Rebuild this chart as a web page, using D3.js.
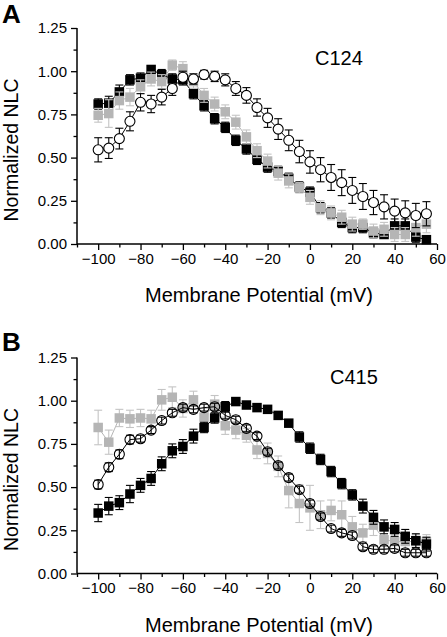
<!DOCTYPE html>
<html><head><meta charset="utf-8">
<script src="https://cdn.jsdelivr.net/npm/d3@7"></script>
<style>
html,body{margin:0;padding:0;background:#fff;}
svg{display:block;font-family:"Liberation Sans",Arial,Helvetica,sans-serif;}
</style></head>
<body><svg id="chart" width="447" height="637"></svg>
<script>
// ---- data ----
const voltages = [-100,-95,-90,-85,-80,-75,-70,-65,-60,-55,-50,-45,-40,-35,-30,-25,-20,-15,-10,-5,0,5,10,15,20,25,30,35,40,45,50,55];
const xTicks = [-100,-80,-60,-40,-20,0,20,40,60];
const yTicks = [0,0.25,0.5,0.75,1.0,1.25];
const panelLabels = ["A","B"];
const panelNames = ["C124","C415"];

const aBlack    = [0.81,0.815,0.88,0.95,0.96,1.01,0.98,0.955,0.95,0.87,0.80,0.725,0.675,0.60,0.55,0.49,0.445,0.42,0.38,0.33,0.30,0.21,0.18,0.125,0.095,0.095,0.065,0.055,0.105,0.105,0.04,0.025];
const aBlackErr = [0.03,0.04,0.04,0.03,0.03,0.02,0.03,0.03,0.03,0.03,0.03,0.03,0.03,0.03,0.03,0.03,0.03,0.03,0.03,0.03,0.03,0.03,0.03,0.03,0.03,0.03,0.03,0.02,0.04,0.04,0.03,0.02];
const aGray     = [0.745,0.755,0.83,0.85,0.91,0.955,0.94,1.035,1.015,0.94,0.86,0.81,0.765,0.705,0.62,0.54,0.48,0.41,0.365,0.325,0.27,0.21,0.18,0.155,0.115,0.115,0.075,0.085,0.055,0.055,0.095,0.115];
const aGrayErr  = [0.04,0.08,0.05,0.05,0.04,0.04,0.04,0.03,0.04,0.04,0.04,0.04,0.04,0.04,0.04,0.04,0.04,0.04,0.04,0.03,0.04,0.04,0.04,0.04,0.04,0.03,0.04,0.04,0.04,0.04,0.05,0.05];
const aOpen     = [0.545,0.555,0.61,0.71,0.82,0.81,0.85,0.90,0.965,0.955,0.98,0.97,0.95,0.90,0.86,0.79,0.73,0.665,0.60,0.535,0.475,0.43,0.385,0.355,0.31,0.275,0.24,0.215,0.19,0.18,0.165,0.175];
const aOpenErr  = [0.07,0.06,0.06,0.055,0.05,0.05,0.045,0.04,0.035,0.03,0.025,0.03,0.035,0.04,0.045,0.05,0.055,0.06,0.06,0.065,0.065,0.07,0.075,0.075,0.075,0.075,0.07,0.07,0.07,0.07,0.07,0.07];

const bBlack    = [0.35,0.39,0.41,0.46,0.51,0.55,0.635,0.71,0.735,0.795,0.845,0.90,0.965,0.995,0.975,0.96,0.95,0.915,0.87,0.79,0.725,0.66,0.59,0.52,0.455,0.39,0.325,0.27,0.255,0.215,0.19,0.17];
const bBlackErr = [0.05,0.05,0.04,0.05,0.04,0.04,0.04,0.04,0.04,0.04,0.03,0.03,0.03,0.02,0.02,0.02,0.02,0.02,0.02,0.03,0.03,0.03,0.03,0.03,0.03,0.04,0.04,0.04,0.04,0.04,0.04,0.04];
const bGray     = [0.845,0.76,0.90,0.895,0.90,0.895,1.005,1.02,0.955,1.005,0.905,0.98,0.855,0.83,0.80,0.715,0.695,0.62,0.48,0.405,0.38,0.34,0.365,0.34,0.27,0.235,0.28,0.195,0.185,0.185,0.185,0.185];
const bGrayErr  = [0.10,0.07,0.05,0.05,0.05,0.05,0.06,0.06,0.05,0.05,0.05,0.05,0.05,0.05,0.04,0.05,0.06,0.06,0.10,0.11,0.13,0.08,0.06,0.08,0.06,0.05,0.06,0.05,0.04,0.04,0.04,0.04];
const bOpen     = [0.515,0.615,0.69,0.775,0.78,0.83,0.885,0.93,0.96,0.95,0.96,0.965,0.915,0.89,0.84,0.795,0.705,0.625,0.555,0.485,0.405,0.33,0.26,0.235,0.22,0.155,0.14,0.14,0.145,0.12,0.12,0.12];
const bOpenErr  = [0.025,0.025,0.025,0.025,0.02,0.02,0.02,0.02,0.02,0.02,0.02,0.02,0.02,0.02,0.02,0.02,0.02,0.02,0.02,0.02,0.02,0.02,0.02,0.02,0.02,0.02,0.02,0.02,0.02,0.02,0.02,0.02];

// ---- layout ----
const svg = d3.select("#chart");
const x = d3.scaleLinear().domain([-110,60]).range([77,437]);
const GRAY = "#b5b5b5", GRAYBAR = "#c4c4c4";

const panels = [
  {top:28, bottom:244, label:panelLabels[0], name:panelNames[0], labelY:23, nameX:315, nameY:65, openFill:"#fff",
   series:[{v:aBlack,e:aBlackErr,c:"#000",bar:"#000",shape:"sq"},
           {v:aGray,e:aGrayErr,c:GRAY,bar:GRAYBAR,shape:"sq"},
           {v:aOpen,e:aOpenErr,c:"#000",bar:"#000",shape:"circ"}]},
  {top:357.5, bottom:573.5, label:panelLabels[1], name:panelNames[1], labelY:351, nameX:330, nameY:384, openFill:"none",
   series:[{v:bGray,e:bGrayErr,c:GRAY,bar:GRAYBAR,shape:"sq"},
           {v:bBlack,e:bBlackErr,c:"#000",bar:"#000",shape:"sq"},
           {v:bOpen,e:bOpenErr,c:"#000",bar:"#000",shape:"circ"}]}
];

panels.forEach(p => {
  const y = d3.scaleLinear().domain([0,1.25]).range([p.bottom,p.top]);
  const g = svg.append("g");

  // axes
  const xAxis = d3.axisBottom(x).tickValues(xTicks).tickSize(6).tickPadding(3).tickFormat(d3.format("d"));
  const xMinor = d3.axisBottom(x).tickValues(d3.range(-110,60,20)).tickSize(3.5).tickFormat("");
  const yAxis = d3.axisLeft(y).tickValues(yTicks).tickSize(6).tickPadding(4).tickFormat(d3.format(".2f"));
  const yMinor = d3.axisLeft(y).tickValues(d3.range(0.125,1.25,0.25)).tickSize(3.5).tickFormat("");

  const gx = g.append("g").attr("transform",`translate(0,${p.bottom})`).call(xAxis);
  g.append("g").attr("transform",`translate(0,${p.bottom})`).call(xMinor).select(".domain").remove();
  const gy = g.append("g").attr("transform",`translate(${x(-110)},0)`).call(yAxis);
  g.append("g").attr("transform",`translate(${x(-110)},0)`).call(yMinor).select(".domain").remove();
  g.selectAll(".domain").attr("stroke","#000").attr("stroke-width",1.5);
  g.selectAll(".tick line").attr("stroke","#000").attr("stroke-width",1.3);
  g.selectAll(".tick text").attr("font-size",15).attr("fill","#000").attr("font-family","Liberation Sans, Arial, sans-serif");
  gx.selectAll(".domain").attr("d",`M${x(-110)},0H${x(60)}`);
  gy.selectAll(".domain").attr("d",`M0,${y(1.25)}V${y(0)}`);

  // titles
  g.append("text").attr("x",(x(-110)+x(60))/2+2).attr("y",p.bottom+58).attr("text-anchor","middle")
    .attr("font-size",20).text("Membrane Potential (mV)");
  g.append("text").attr("transform",`translate(18,${(p.top+p.bottom)/2+14}) rotate(-90)`)
    .attr("text-anchor","middle").attr("font-size",19.5).text("Normalized NLC");
  g.append("text").attr("x",2).attr("y",p.labelY).attr("font-size",26).attr("font-weight","bold").text(p.label);
  g.append("text").attr("x",p.nameX).attr("y",p.nameY).attr("font-size",20).text(p.name);

  // series
  p.series.forEach(s => {
    const pts = voltages.map((v,i)=>({x:v,y:s.v[i],e:s.e[i]}));
    const line = d3.line().x(d=>x(d.x)).y(d=>y(d.y));
    g.append("path").datum(pts).attr("d",line).attr("fill","none").attr("stroke",s.c).attr("stroke-width",1);
    const eb = g.append("g").attr("stroke",s.bar).attr("stroke-width",1.1);
    pts.forEach(d=>{
      const cx = x(d.x);
      eb.append("line").attr("x1",cx).attr("x2",cx).attr("y1",y(d.y-d.e)).attr("y2",y(d.y+d.e));
      eb.append("line").attr("x1",cx-4).attr("x2",cx+4).attr("y1",y(d.y-d.e)).attr("y2",y(d.y-d.e));
      eb.append("line").attr("x1",cx-4).attr("x2",cx+4).attr("y1",y(d.y+d.e)).attr("y2",y(d.y+d.e));
    });
    if (s.shape==="sq") {
      const sz = 9.5;
      g.append("g").selectAll("rect").data(pts).join("rect")
        .attr("x",d=>x(d.x)-sz/2).attr("y",d=>y(d.y)-sz/2).attr("width",sz).attr("height",sz)
        .attr("fill",s.c);
    } else {
      g.append("g").selectAll("circle").data(pts).join("circle")
        .attr("cx",d=>x(d.x)).attr("cy",d=>y(d.y)).attr("r",5)
        .attr("fill",p.openFill).attr("stroke","#000").attr("stroke-width",1.1);
    }
  });
});
</script></body></html>
